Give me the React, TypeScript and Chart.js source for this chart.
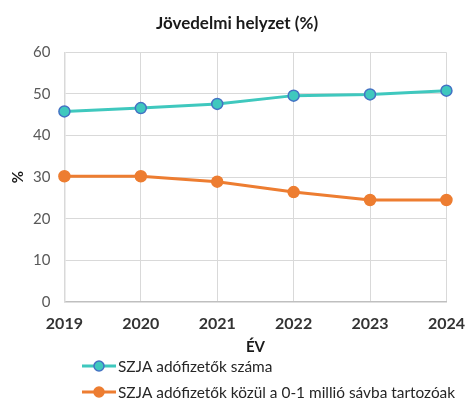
import React, { useEffect, useRef } from "react";
import { Chart, registerables } from "chart.js";

Chart.register(...registerables);

const years = ["2019", "2020", "2021", "2022", "2023", "2024"];
const szjaPayers = [45.8, 46.6, 47.6, 49.6, 49.9, 50.8];
const lowBandShare = [30.2, 30.2, 28.9, 26.4, 24.5, 24.5];
const seriesNames = [
  "SZJA adófizetők száma",
  "SZJA adófizetők közül a 0-1 millió sávba tartozóak",
];
const yTicks = [0, 10, 20, 30, 40, 50, 60];

const FONT = 'Lato, "Open Sans", sans-serif';

const legendPlugin = {
  id: "customLegend",
  afterDraw(chart: any) {
    const ctx = chart.ctx as CanvasRenderingContext2D;
    const x0 = 82;
    const rowTop = 366;
    const rowGap = 26;
    chart.data.datasets.forEach((ds: any, i: number) => {
      const y = rowTop + i * rowGap;
      ctx.save();
      ctx.strokeStyle = ds.borderColor;
      ctx.lineWidth = 3;
      ctx.beginPath();
      ctx.moveTo(x0, y);
      ctx.lineTo(x0 + 34, y);
      ctx.stroke();
      ctx.beginPath();
      ctx.arc(x0 + 17, y, 5, 0, Math.PI * 2);
      ctx.fillStyle = ds.pointBackgroundColor;
      ctx.fill();
      ctx.lineWidth = 1.5;
      ctx.strokeStyle = ds.pointBorderColor;
      ctx.stroke();
      ctx.fillStyle = "#262626";
      ctx.font = `15.4px ${FONT}`;
      ctx.textBaseline = "middle";
      ctx.textAlign = "left";
      ctx.fillText(ds.label, x0 + 36, y + 1);
      ctx.restore();
    });
  },
};

export default function App() {
  const ref = useRef<HTMLCanvasElement>(null);
  useEffect(() => {
    if (!ref.current) return;
    const chart = new Chart(ref.current, {
      type: "line",
      data: {
        labels: years,
        datasets: [
          {
            label: seriesNames[0],
            data: szjaPayers,
            borderColor: "#3FC8BE",
            backgroundColor: "#3FC8BE",
            pointBackgroundColor: "#3FC8BE",
            pointBorderColor: "#4472C4",
            pointBorderWidth: 1.5,
            pointRadius: 5.5,
            borderWidth: 3,
            tension: 0,
          },
          {
            label: seriesNames[1],
            data: lowBandShare,
            borderColor: "#ED7D31",
            backgroundColor: "#ED7D31",
            pointBackgroundColor: "#ED7D31",
            pointBorderColor: "#ED7D31",
            pointBorderWidth: 1.5,
            pointRadius: 5.5,
            borderWidth: 3,
            tension: 0,
          },
        ],
      },
      options: {
        responsive: false,
        animation: false,
        layout: { padding: { top: 13, bottom: 47, left: 9, right: 0 } },
        plugins: {
          legend: { display: false },
          tooltip: { enabled: false },
          title: {
            display: true,
            text: "Jövedelmi helyzet (%)",
            color: "#1a1a1a",
            font: { family: FONT, size: 17, weight: "bold" },
            padding: { top: 0, bottom: 19 },
          },
        },
        scales: {
          x: {
            type: "category",
            offset: false,
            grid: {
              color: "#d9d9d9",
              lineWidth: 1,
              drawTicks: true,
              tickLength: 12,
              tickColor: "rgba(0,0,0,0)",
            },
            border: { color: "#bfbfbf", width: 1.5 },
            ticks: {
              color: "#333333",
              font: { family: FONT, size: 16, weight: "bold" },
              padding: 0,
              maxRotation: 0,
            },
            title: {
              display: true,
              text: "ÉV",
              color: "#1a1a1a",
              font: { family: FONT, size: 15, weight: "bold" },
              padding: { top: 5, bottom: 0 },
            },
          },
          y: {
            min: yTicks[0],
            max: yTicks[yTicks.length - 1],
            afterBuildTicks: (axis: any) => {
              axis.ticks = yTicks.map((v) => ({ value: v }));
            },
            grid: { color: "#d9d9d9", lineWidth: 1, drawTicks: false },
            border: { color: "#d9d9d9", width: 1.5 },
            ticks: {
              color: "#595959",
              font: { family: FONT, size: 15 },
              padding: 14,
            },
            title: {
              display: true,
              text: "%",
              color: "#1a1a1a",
              font: { family: FONT, size: 15, weight: "bold" },
              padding: { top: 0, bottom: -8 },
            },
          },
        },
      },
      plugins: [legendPlugin],
    });
    return () => chart.destroy();
  }, []);
  return (
    <div style={{ position: "absolute", left: 0, top: 0, width: 465, height: 403, background: "#fff" }}>
      <canvas ref={ref} width={465} height={403} />
    </div>
  );
}
